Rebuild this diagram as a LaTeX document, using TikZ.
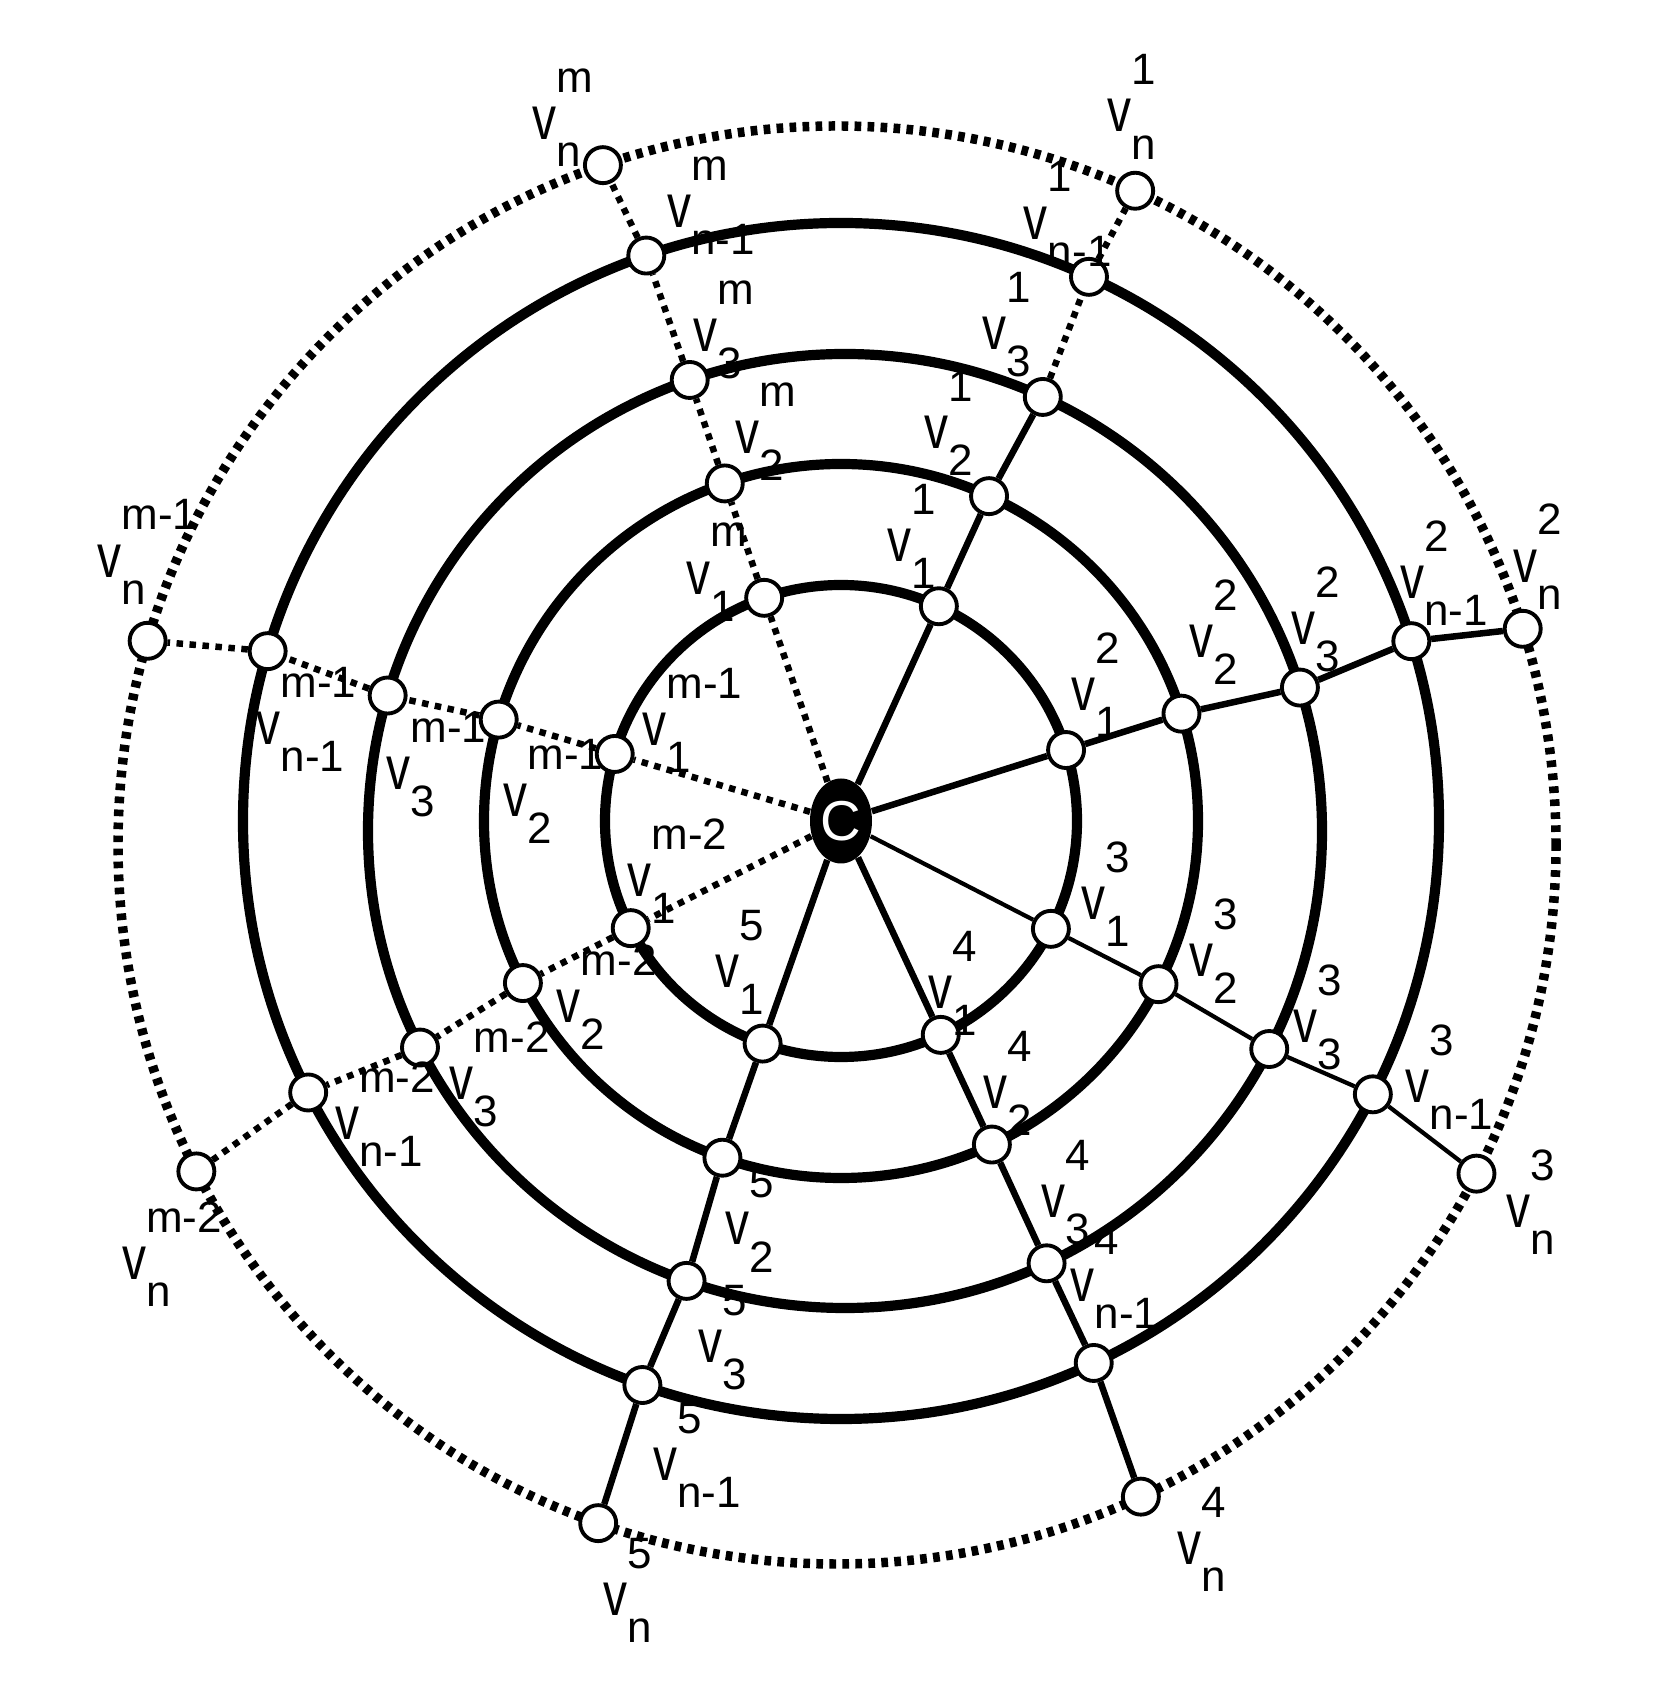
\documentclass[tikz,border=0pt]{standalone}
\usepackage{fontspec}
\setmainfont{Liberation Sans}
\usepackage{graphicx}
\usetikzlibrary{shapes.geometric}

% v with its spoke number above and its ring index below
\newcommand{\vlab}[2]{%
  \scalebox{0.78}[1]{\fontsize{17.5}{18}\selectfont v}%
  \rlap{\raisebox{13.4pt}[0pt][0pt]{\fontsize{12.5}{13}\selectfont #1}}%
  \rlap{\raisebox{-7.7pt}[0pt][0pt]{\fontsize{12.5}{13}\selectfont #2}}}

\tikzset{
  ring/.style={line width=2.9pt},
  outring/.style={line width=2.7pt, dash pattern=on 1.9pt off 1.8pt},
  spk/.style={line width=1.85pt},
  thinspk/.style={line width=1.2pt},
  dotspk/.style={line width=1.85pt, dash pattern=on 1.85pt off 1.85pt},
  vtx/.style={circle, draw, fill=white, line width=1.1pt, minimum size=3.6mm, inner sep=0pt},
  hub/.style={ellipse, fill=black, text=white, minimum width=6.2mm, minimum height=8.5mm,
              inner sep=0pt, font=\fontsize{16}{16}\selectfont},
  tag/.style={inner sep=0pt, outer sep=0pt}
}

\begin{document}
\begin{tikzpicture}
    \useasboundingbox (-8.41,-8.83) rectangle (8.18,8.21);
    \coordinate (o3) at (0.04,-0.10);
    \coordinate (o5) at (-0.04,-0.24);

    % rings
    \draw[ring] (0,0) circle (2.36);
    \draw[ring] (0,0) circle (3.57);
    \draw[ring] (o3) circle (4.77);
    \draw[ring] (0,0) circle (5.98);
    \draw[outring] (o5) circle (7.19);

    \node[hub] (C) at (0,0) {C};

    % one spoke of vertices per direction
    \foreach \s/\ang in {a/65.5, b/17.5, c/-27.2, d/-65, e/-109.4, f/207, g/163.5, h/109}
    {
        \node[vtx] (\s1) at (\ang:2.36) {};
        \node[vtx] (\s2) at (\ang:3.57) {};
        \node[vtx] (\s3) at ([shift={(\ang:4.77)}]o3) {};
        \node[vtx] (\s4) at (\ang:5.98) {};
        \node[vtx] (\s5) at ([shift={(\ang:7.19)}]o5) {};
    }

    \draw[spk] (C) -- (a1) -- (a2) -- (a3);
    \draw[dotspk] (a3) -- (a4) -- (a5);
    \foreach \s/\st in {b/spk, c/thinspk, d/spk, e/spk, f/dotspk, g/dotspk, h/dotspk}
        \draw[\st] (C) -- (\s1) -- (\s2) -- (\s3) -- (\s4) -- (\s5);

    % labels
    \foreach \nd/\p/\q/\x/\y in {
        a1/1/1/-0.39/0.61, a2/1/2/-0.53/0.64, a3/1/3/-0.48/0.64, a4/1/n-1/-0.53/0.54, a5/1/n/-0.16/0.75,
        b1/2/1/0.17/0.56, b2/2/2/0.20/0.72, b3/2/3/0.04/0.59, b4/2/n-1/0.01/0.59, b5/2/n/0.03/0.63,
        c1/3/1/0.43/0.26, c2/3/2/0.43/0.24, c3/3/3/0.36/0.23, c4/3/n-1/0.45/0.08, c5/3/n/0.42/-0.38,
        d1/4/1/0.00/0.43, d2/4/2/0.04/0.52, d3/4/3/0.07/0.62, d4/4/n-1/-0.11/0.78, d5/4/n/0.49/-0.52,
        e1/5/1/-0.35/0.72, e2/5/2/0.15/-0.71, e3/5/3/0.24/-0.65, e4/5/n-1/0.23/-0.79, e5/5/n/0.17/-0.76,
        f1/m-2/1/0.09/0.48, f2/m-2/2/0.46/-0.23, f3/m-2/3/0.42/-0.36, f4/m-2/n-1/0.39/-0.31, f5/m-2/n/-0.62/-0.92,
        g1/m-1/1/0.40/0.25, g2/m-1/2/0.17/-0.81, g3/m-1/3/0.11/-0.78, g4/m-1/n-1/0.01/-0.77, g5/m-1/n/-0.38/0.80,
        h1/m/1/-0.66/0.20, h2/m/2/0.23/0.46, h3/m/3/0.16/0.45, h4/m/n-1/0.33/0.44, h5/m/n/-0.58/0.42}
        \node[tag] at ([shift={(\x,\y)}]\nd) {\vlab{\p}{\q}};
\end{tikzpicture}
\end{document}
